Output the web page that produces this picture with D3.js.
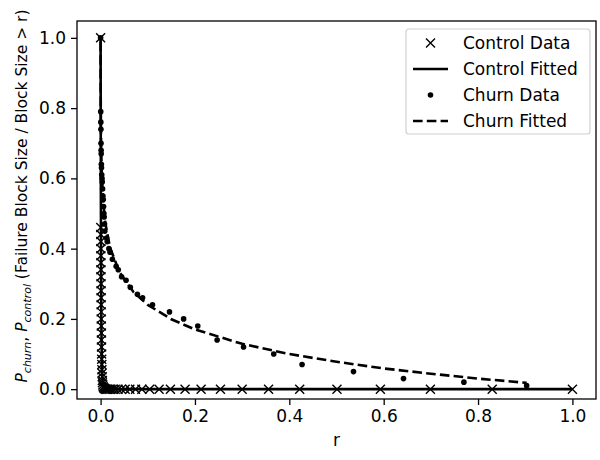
<!DOCTYPE html>
<html>
<head>
<meta charset="utf-8">
<script src="https://cdn.jsdelivr.net/npm/d3@7"></script>
<style>
  body { margin: 0; background: #fff; }
  svg { font-family: "DejaVu Sans", sans-serif; }
</style>
</head>
<body>
<div id="chart"></div>
<script>
/* tick labels */
var xTicks = [0, 0.2, 0.4, 0.6, 0.8, 1.0];
var yTicks = [0, 0.2, 0.4, 0.6, 0.8, 1.0];

/* control data (x markers) */
var controlX = [0.00004, 0.0004, 0.00045, 0.0005, 0.00055, 0.0006, 0.00066, 0.00072, 0.0008, 0.00088,
                0.00096, 0.00105, 0.00115, 0.00125, 0.0014, 0.0015, 0.0017, 0.0018, 0.002, 0.0022,
                0.0024, 0.0026, 0.0028, 0.0031, 0.0034, 0.0037, 0.004, 0.0047, 0.0055, 0.0066,
                0.0078, 0.0093, 0.011, 0.0131, 0.0156, 0.0185, 0.022, 0.026, 0.031, 0.037,
                0.044, 0.052, 0.062, 0.074, 0.0875, 0.104, 0.124, 0.148, 0.179, 0.213,
                0.254, 0.300, 0.356, 0.422, 0.501, 0.593, 0.699, 0.830, 1.0];
var controlY = [1.0, 0.46, 0.44, 0.42, 0.40, 0.38, 0.36, 0.34, 0.32, 0.30,
                0.28, 0.26, 0.24, 0.22, 0.20, 0.18, 0.16, 0.14, 0.12, 0.10,
                0.085, 0.07, 0.055, 0.045, 0.035, 0.025, 0.018, 0.012, 0.007, 0.004,
                0.002, 0.001, 0, 0, 0, 0, 0, 0, 0, 0,
                0, 0, 0, 0, 0, 0, 0, 0, 0, 0,
                0, 0, 0, 0, 0, 0, 0, 0, 0];

/* control fitted (solid) */
var controlFitX = [0, 0.0003, 0.0006, 0.001, 0.0015, 0.002, 0.003, 0.005, 0.01, 1.0];
var controlFitY = [1.0, 0.74, 0.55, 0.37, 0.22, 0.14, 0.05, 0.007, 0, 0];

/* churn data (dots) */
var churnX = [0.0, 0.0003, 0.0005, 0.0007, 0.0009, 0.0011, 0.0013, 0.0016, 0.0019, 0.0024,
              0.003, 0.0035, 0.0042, 0.005, 0.0057, 0.0063, 0.007, 0.0076, 0.0083, 0.009,
              0.0127, 0.014, 0.0176, 0.020, 0.025, 0.033, 0.0375, 0.0445, 0.054, 0.063,
              0.078, 0.089, 0.110, 0.146, 0.176, 0.206, 0.247, 0.303, 0.367, 0.427,
              0.536, 0.642, 0.770, 0.903];
var churnY = [1.0, 0.79, 0.76, 0.74, 0.70, 0.68, 0.67, 0.64, 0.63, 0.61,
              0.60, 0.59, 0.57, 0.55, 0.54, 0.52, 0.50, 0.49, 0.47, 0.45,
              0.43, 0.42, 0.40, 0.39, 0.37, 0.35, 0.34, 0.32, 0.31, 0.29,
              0.27, 0.26, 0.24, 0.22, 0.20, 0.18, 0.14, 0.12, 0.10, 0.07,
              0.05, 0.03, 0.02, 0.01];

/* churn fitted (dashed) */
var churnFitX = [0.00006, 0.0001, 0.0003, 0.001, 0.002, 0.005, 0.01, 0.02, 0.04, 0.07,
                 0.1, 0.15, 0.2, 0.3, 0.4, 0.5, 0.6, 0.7, 0.8, 0.903];
var churnFitY = [0.99, 0.938, 0.827, 0.706, 0.635, 0.543, 0.473, 0.403, 0.333, 0.276,
                 0.240, 0.199, 0.170, 0.129, 0.100, 0.078, 0.059, 0.044, 0.030, 0.018];

var legendLabels = ['Control Data', 'Control Fitted', 'Churn Data', 'Churn Fitted'];

function zip(xs, ys) {
  return xs.map(function (x, i) { return { x: x, y: ys[i] }; });
}

var W = 600, H = 460;
var plot = { left: 77, right: 596, top: 21, bottom: 399 };

var svg = d3.select('#chart').append('svg')
  .attr('width', W).attr('height', H);

var x = d3.scaleLinear().domain([-0.05, 1.05]).range([plot.left, plot.right]);
var y = d3.scaleLinear().domain([-0.028, 1.048]).range([plot.bottom, plot.top]);

/* axes */
var xAxis = svg.append('g')
  .attr('transform', 'translate(0,' + plot.bottom + ')')
  .call(d3.axisBottom(x).tickValues(xTicks).tickSize(6).tickPadding(5).tickFormat(d3.format('.1f')));
var yAxis = svg.append('g')
  .attr('transform', 'translate(' + plot.left + ',0)')
  .call(d3.axisLeft(y).tickValues(yTicks).tickSize(6).tickPadding(5).tickFormat(d3.format('.1f')));

[xAxis, yAxis].forEach(function (a) {
  a.select('.domain').remove();
  a.selectAll('line').attr('stroke', '#000').attr('stroke-width', 1.3);
  a.selectAll('text').attr('fill', '#000').style('font-size', '17px')
    .style('font-family', '"DejaVu Sans", sans-serif');
});

var line = d3.line()
  .x(function (d) { return x(d.x); })
  .y(function (d) { return y(d.y); });

var g = svg.append('g');

/* control data: x markers */
g.selectAll('path.cx')
  .data(zip(controlX, controlY))
  .join('path')
  .attr('class', 'cx')
  .attr('d', 'M-4.5,-4.5L4.5,4.5M-4.5,4.5L4.5,-4.5')
  .attr('transform', function (d) { return 'translate(' + x(d.x) + ',' + y(d.y) + ')'; })
  .attr('stroke', '#000')
  .attr('stroke-width', 1.4)
  .attr('fill', 'none');

/* control fitted */
g.append('path')
  .datum(zip(controlFitX, controlFitY))
  .attr('d', line)
  .attr('fill', 'none')
  .attr('stroke', '#000')
  .attr('stroke-width', 2.6);

/* churn data: dots */
g.selectAll('circle.cd')
  .data(zip(churnX, churnY))
  .join('circle')
  .attr('class', 'cd')
  .attr('cx', function (d) { return x(d.x); })
  .attr('cy', function (d) { return y(d.y); })
  .attr('r', 2.8)
  .attr('fill', '#000');

/* churn fitted */
g.append('path')
  .datum(zip(churnFitX, churnFitY))
  .attr('d', line)
  .attr('fill', 'none')
  .attr('stroke', '#000')
  .attr('stroke-width', 2.6)
  .attr('stroke-dasharray', '9.6,4.2');

/* frame */
svg.append('rect')
  .attr('x', plot.left).attr('y', plot.top)
  .attr('width', plot.right - plot.left)
  .attr('height', plot.bottom - plot.top)
  .attr('fill', 'none')
  .attr('stroke', '#000')
  .attr('stroke-width', 1.3);

/* axis labels */
svg.append('text')
  .attr('x', (plot.left + plot.right) / 2)
  .attr('y', 446)
  .attr('text-anchor', 'middle')
  .style('font-size', '17px')
  .text('r');

var yl = svg.append('text')
  .attr('transform', 'translate(27,196) rotate(-90)')
  .attr('text-anchor', 'middle')
  .style('font-size', '15.5px');
yl.append('tspan').attr('font-style', 'italic').text('P');
yl.append('tspan').attr('font-style', 'italic').attr('font-size', '11px').attr('dy', 4).text('churn');
yl.append('tspan').attr('dy', -4).text(', ');
yl.append('tspan').attr('font-style', 'italic').text('P');
yl.append('tspan').attr('font-style', 'italic').attr('font-size', '11px').attr('dy', 4).text('control');
yl.append('tspan').attr('dy', -4).text(' (Failure Block Size / Block Size > r)');

/* legend */
var leg = svg.append('g');
leg.append('rect')
  .attr('x', 406).attr('y', 29)
  .attr('width', 184).attr('height', 105)
  .attr('rx', 3)
  .attr('fill', '#fff').attr('fill-opacity', 0.8)
  .attr('stroke', '#d0d0d0').attr('stroke-width', 1.2);

var rowY = d3.scalePoint().domain(legendLabels).range([43, 121]);
var hx0 = 413, hx1 = 448, hxm = (hx0 + hx1) / 2;

leg.append('path')
  .attr('d', 'M-4.5,-4.5L4.5,4.5M-4.5,4.5L4.5,-4.5')
  .attr('transform', 'translate(' + hxm + ',' + rowY(legendLabels[0]) + ')')
  .attr('stroke', '#000').attr('stroke-width', 1.4);
leg.append('line')
  .attr('x1', hx0).attr('x2', hx1)
  .attr('y1', rowY(legendLabels[1])).attr('y2', rowY(legendLabels[1]))
  .attr('stroke', '#000').attr('stroke-width', 2.6);
leg.append('circle')
  .attr('cx', hxm).attr('cy', rowY(legendLabels[2])).attr('r', 2.8)
  .attr('fill', '#000');
leg.append('line')
  .attr('x1', hx0).attr('x2', hx1)
  .attr('y1', rowY(legendLabels[3])).attr('y2', rowY(legendLabels[3]))
  .attr('stroke', '#000').attr('stroke-width', 2.6)
  .attr('stroke-dasharray', '9.6,4.2');

leg.selectAll('text.lt')
  .data(legendLabels)
  .join('text')
  .attr('class', 'lt')
  .attr('x', 463)
  .attr('y', function (d) { return rowY(d); })
  .attr('dy', '0.35em')
  .style('font-size', '17px')
  .text(function (d) { return d; });
</script>
</body>
</html>
